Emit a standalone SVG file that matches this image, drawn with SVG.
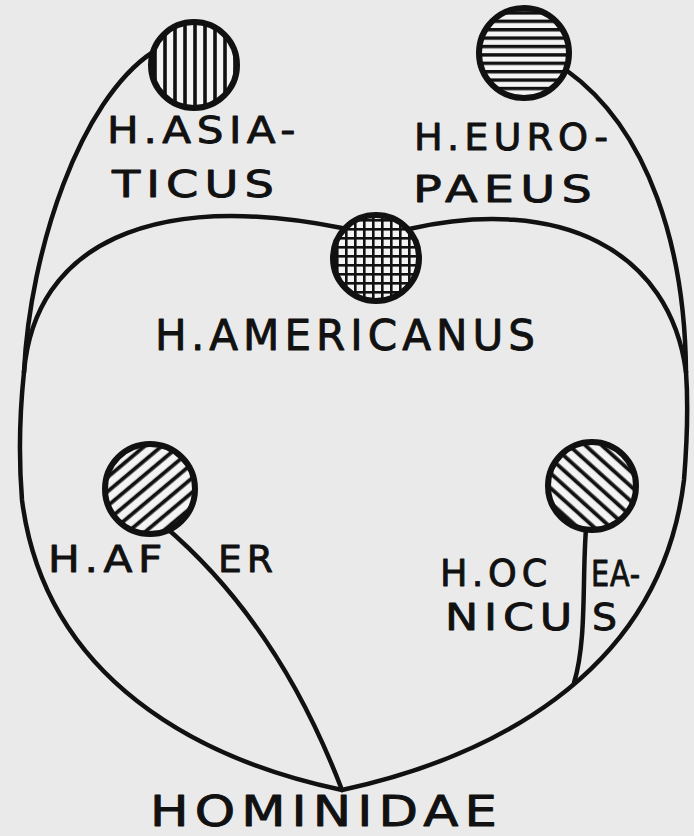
<svg xmlns="http://www.w3.org/2000/svg" width="694" height="836" viewBox="0 0 694 836">
<style>
.bg{fill:#eaeaea}
.conn{fill:none;stroke:#111;stroke-width:4.5;stroke-linecap:round;stroke-linejoin:round}
.node{stroke:#111;stroke-width:6}
.lbl{font-family:"DejaVu Sans","Liberation Sans",sans-serif;font-size:38px;letter-spacing:5px;fill:#111;stroke:#111;stroke-width:0.9;stroke-linejoin:round}
</style>
<defs>
<pattern id="pv" patternUnits="userSpaceOnUse" width="10" height="10">
<rect width="10" height="10" fill="#f4f4f4"/><rect x="3.2" width="3.6" height="10" fill="#111"/>
</pattern>
<pattern id="ph" patternUnits="userSpaceOnUse" width="10" height="8.4">
<rect width="10" height="8.4" fill="#f4f4f4"/><rect y="2.8" width="10" height="3.4" fill="#111"/>
</pattern>
<pattern id="pg" patternUnits="userSpaceOnUse" width="9" height="9">
<rect width="9" height="9" fill="#f4f4f4"/><rect x="3" width="2.6" height="9" fill="#111"/><rect y="3" width="9" height="2.6" fill="#111"/>
</pattern>
<pattern id="pa" patternUnits="userSpaceOnUse" width="11" height="11" patternTransform="rotate(50)">
<rect width="11" height="11" fill="#f4f4f4"/><rect x="3.8" width="3.8" height="11" fill="#111"/>
</pattern>
<pattern id="po" patternUnits="userSpaceOnUse" width="11" height="11" patternTransform="rotate(-48)">
<rect width="11" height="11" fill="#f4f4f4"/><rect x="3.8" width="3.8" height="11" fill="#111"/>
</pattern>
</defs>
<rect class="bg" width="694" height="836"/>
<g id="connectors" class="conn">
<path d="M342 790 C200 760 45 680 22 500 C18 450 20 410 24 372"/>
<path d="M24 372 C30 250 80 100 153 52"/>
<path d="M24 372 C35 245 150 190 342 228"/>
<path d="M342 790 C480 760 660 680 684 480 C688 430 688 400 686 372"/>
<path d="M686 372 C685 250 650 130 566 70"/>
<path d="M686 372 C670 250 560 195 409 229"/>
<path d="M163 525 C240 590 300 680 342 790"/>
<path d="M586 529 C582 580 587 640 574 683"/>
</g>
<g id="asiaticus">
<circle class="node" cx="194" cy="65" r="43" fill="url(#pv)"/>
<text class="lbl" x="107" y="143" textLength="194" lengthAdjust="spacingAndGlyphs">H.ASIA-</text>
<text class="lbl" x="112" y="197" textLength="168" lengthAdjust="spacingAndGlyphs">TICUS</text>
</g>
<g id="europaeus">
<circle class="node" cx="524" cy="53" r="45" fill="url(#ph)"/>
<text class="lbl" x="414" y="150" textLength="199" lengthAdjust="spacingAndGlyphs">H.EURO-</text>
<text class="lbl" x="413" y="202" textLength="185" lengthAdjust="spacingAndGlyphs">PAEUS</text>
</g>
<g id="americanus">
<circle class="node" cx="376" cy="258" r="43" fill="url(#pg)"/>
<text class="lbl" x="155" y="350" textLength="385" lengthAdjust="spacingAndGlyphs" style="font-size:42px">H.AMERICANUS</text>
</g>
<g id="afer">
<circle class="node" cx="150" cy="489" r="45" fill="url(#pa)"/>
<text class="lbl" x="48" y="572" textLength="120" lengthAdjust="spacingAndGlyphs">H.AF</text>
<text class="lbl" x="218" y="572" textLength="60" lengthAdjust="spacingAndGlyphs">ER</text>
</g>
<g id="oceanicus">
<circle class="node" cx="592" cy="486" r="44" fill="url(#po)"/>
<text class="lbl" x="440" y="586" textLength="112" lengthAdjust="spacingAndGlyphs">H.OC</text>
<text class="lbl" x="591" y="586" textLength="50" lengthAdjust="spacingAndGlyphs" style="letter-spacing:1px;font-size:36px">EA-</text>
<text class="lbl" x="445" y="630" textLength="133" lengthAdjust="spacingAndGlyphs">NICU</text>
<text class="lbl" x="592" y="630" textLength="25" lengthAdjust="spacingAndGlyphs" style="letter-spacing:0px">S</text>
</g>
<g id="hominidae">
<text class="lbl" x="150" y="826" textLength="353" lengthAdjust="spacingAndGlyphs" style="font-size:42px">HOMINIDAE</text>
</g>
</svg>
